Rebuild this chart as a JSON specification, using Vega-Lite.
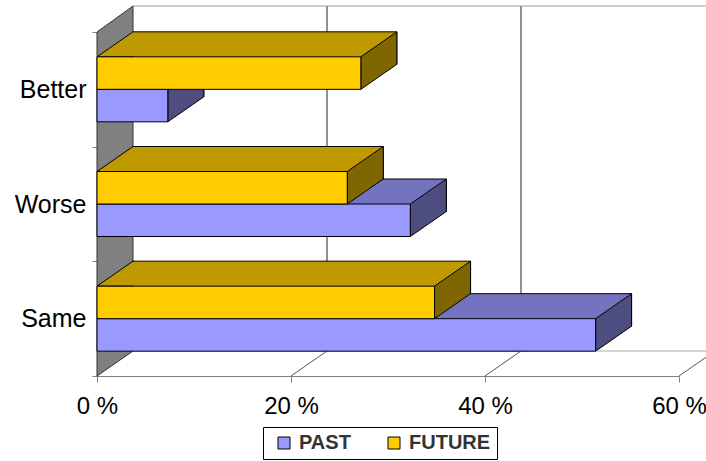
{
  "$schema": "https://vega.github.io/schema/vega-lite/v6.json",
  "width": 582,
  "height": 344,
  "autosize": {"type": "none"},
  "padding": {"left": 97, "top": 32, "right": 27, "bottom": 85},
  "background": "white",
  "config": {
    "view": {"stroke": null},
    "font": "Liberation Sans",
    "axisX": {"grid": false, "domainColor": "#808080", "tickColor": "#808080", "tickSize": 6, "labelFontSize": 24, "labelColor": "#000", "labelPadding": 12, "labelFont": "Liberation Sans", "labelFlush": false, "labelOverlap": false}
  },
  "datasets": {
    "bars": [
      {"cat": "Better", "series": "PAST", "v": 7.3},
      {"cat": "Better", "series": "FUTURE", "v": 27.2},
      {"cat": "Worse", "series": "PAST", "v": 32.3},
      {"cat": "Worse", "series": "FUTURE", "v": 25.8},
      {"cat": "Same", "series": "PAST", "v": 51.4},
      {"cat": "Same", "series": "FUTURE", "v": 34.8}
    ],
    "ticks": [{"t": 0}, {"t": 20}, {"t": 40}, {"t": 60}]
  },
  "resolve": {"scale": {"y": "independent"}},
  "layer": [
    {
      "data": {"name": "ticks"},
      "layer": [
        {
          "transform": [{"filter": "datum.t == 0"}],
          "mark": {"type": "point", "shape": "M0,0 L0,-344 L36,-370 L36,-25 Z", "size": 4, "filled": true, "fill": "#808080", "stroke": "#333", "strokeWidth": 1, "opacity": 1},
          "encoding": {
            "x": {"field": "t", "type": "quantitative", "scale": {"domain": [0, 60], "nice": false}, "axis": {"values": [0, 20, 40, 60], "labelExpr": "datum.value + ' %'", "title": null}},
            "y": {"datum": 0, "type": "quantitative", "scale": {"domain": [0, 1]}, "axis": null}
          }
        },
        {
          "transform": [{"filter": "datum.t > 0"}],
          "mark": {"type": "rule", "color": "#222", "strokeWidth": 1, "xOffset": 36, "yOffset": -25, "y2Offset": -26},
          "encoding": {
            "x": {"field": "t", "type": "quantitative", "axis": {"values": [0, 20, 40, 60], "labelExpr": "datum.value + ' %'", "title": null}},
            "y": {"datum": 0, "type": "quantitative", "axis": null},
            "y2": {"datum": 1}
          }
        },
        {
          "transform": [{"filter": "datum.t == 0"}],
          "mark": {"type": "rule", "color": "#999", "strokeWidth": 1, "xOffset": 36, "x2Offset": 36, "yOffset": -26},
          "encoding": {
            "x": {"field": "t", "type": "quantitative", "axis": {"values": [0, 20, 40, 60], "labelExpr": "datum.value + ' %'", "title": null}},
            "x2": {"datum": 60},
            "y": {"datum": 1, "type": "quantitative", "axis": null}
          }
        },
        {
          "transform": [{"filter": "datum.t == 0"}],
          "mark": {"type": "rule", "color": "#aaa", "strokeWidth": 1, "xOffset": 36, "x2Offset": 36, "yOffset": -25},
          "encoding": {
            "x": {"field": "t", "type": "quantitative", "axis": {"values": [0, 20, 40, 60], "labelExpr": "datum.value + ' %'", "title": null}},
            "x2": {"datum": 60},
            "y": {"datum": 0, "type": "quantitative", "axis": null}
          }
        },
        {
          "transform": [{"filter": "datum.t > 0"}],
          "mark": {"type": "rule", "color": "#555", "strokeWidth": 1, "x2Offset": 36, "y2Offset": -25},
          "encoding": {
            "x": {"field": "t", "type": "quantitative", "axis": {"values": [0, 20, 40, 60], "labelExpr": "datum.value + ' %'", "title": null}},
            "x2": {"field": "t"},
            "y": {"datum": 0, "type": "quantitative", "axis": null},
            "y2": {"datum": 0}
          }
        }
      ]
    },
    {
      "data": {"name": "bars"},
      "encoding": {
        "y": {
          "field": "cat", "type": "nominal", "sort": ["Better", "Worse", "Same"],
          "scale": {"paddingInner": 0, "paddingOuter": 0},
          "axis": {"title": null, "labelFontSize": 25, "labelColor": "#000", "labelPadding": 6, "tickBand": "extent", "tickSize": 5, "tickColor": "#808080", "domainColor": "#333", "grid": false, "labelFont": "Liberation Sans"}
        }
      },
      "layer": [
        {
          "transform": [{"filter": "datum.series == 'PAST'"}],
          "mark": {"type": "bar", "height": 32.5, "yOffset": -8.75, "xOffset": 36, "x2Offset": 36, "fill": "#7373BF", "stroke": "#000", "strokeWidth": 1},
          "encoding": {"x": {"field": "v", "type": "quantitative", "axis": {"values": [0, 20, 40, 60], "labelExpr": "datum.value + ' %'", "title": null}}}
        },
        {
          "transform": [{"filter": "datum.series == 'PAST'"}],
          "mark": {"type": "point", "shape": "M37,0 L0,0 L36,-25 L37,-25", "size": 4, "filled": true, "fill": "#7373BF", "stroke": "#000", "strokeWidth": 1, "opacity": 1},
          "encoding": {"x": {"datum": 0, "type": "quantitative", "axis": {"values": [0, 20, 40, 60], "labelExpr": "datum.value + ' %'", "title": null}}}
        },
        {
          "transform": [{"filter": "datum.series == 'PAST'"}],
          "mark": {"type": "point", "shape": "M0,0 L36,-25 L36,7.5 L0,32.5 Z", "size": 4, "filled": true, "fill": "#4D4D80", "stroke": "#000", "strokeWidth": 1, "opacity": 1},
          "encoding": {"x": {"field": "v", "type": "quantitative", "axis": {"values": [0, 20, 40, 60], "labelExpr": "datum.value + ' %'", "title": null}}}
        },
        {
          "transform": [{"filter": "datum.series == 'PAST'"}],
          "mark": {"type": "bar", "height": 32.5, "yOffset": 16.25, "stroke": "#000", "strokeWidth": 1},
          "encoding": {
            "x": {"field": "v", "type": "quantitative", "axis": {"values": [0, 20, 40, 60], "labelExpr": "datum.value + ' %'", "title": null}},
            "color": {"field": "series", "type": "nominal", "scale": {"domain": ["PAST", "FUTURE"], "range": ["#9999FF", "#FFCC00"]},
              "legend": {"title": null, "orient": "none", "legendX": 166, "legendY": 395, "direction": "horizontal", "symbolType": "square", "symbolSize": 144, "symbolStrokeColor": "#000", "symbolStrokeWidth": 1, "labelFontSize": 20, "labelFontWeight": "bold", "labelColor": "#333", "labelFont": "Liberation Sans", "strokeColor": "#000", "fillColor": "#fff", "padding": 6, "columnPadding": 28, "labelOffset": 5, "symbolOffset": 5}}
          }
        },
        {
          "transform": [{"filter": "datum.series == 'FUTURE'"}],
          "mark": {"type": "bar", "height": 32.5, "yOffset": -41.25, "xOffset": 36, "x2Offset": 36, "fill": "#BF9900", "stroke": "#000", "strokeWidth": 1},
          "encoding": {"x": {"field": "v", "type": "quantitative", "axis": {"values": [0, 20, 40, 60], "labelExpr": "datum.value + ' %'", "title": null}}}
        },
        {
          "transform": [{"filter": "datum.series == 'FUTURE'"}],
          "mark": {"type": "point", "shape": "M37,-32.5 L0,-32.5 L36,-57.5 L37,-57.5", "size": 4, "filled": true, "fill": "#BF9900", "stroke": "#000", "strokeWidth": 1, "opacity": 1},
          "encoding": {"x": {"datum": 0, "type": "quantitative", "axis": {"values": [0, 20, 40, 60], "labelExpr": "datum.value + ' %'", "title": null}}}
        },
        {
          "transform": [{"filter": "datum.series == 'FUTURE'"}],
          "mark": {"type": "point", "shape": "M0,-32.5 L36,-57.5 L36,-25 L0,0 Z", "size": 4, "filled": true, "fill": "#806600", "stroke": "#000", "strokeWidth": 1, "opacity": 1},
          "encoding": {"x": {"field": "v", "type": "quantitative", "axis": {"values": [0, 20, 40, 60], "labelExpr": "datum.value + ' %'", "title": null}}}
        },
        {
          "transform": [{"filter": "datum.series == 'FUTURE'"}],
          "mark": {"type": "bar", "height": 32.5, "yOffset": -16.25, "stroke": "#000", "strokeWidth": 1},
          "encoding": {
            "x": {"field": "v", "type": "quantitative", "axis": {"values": [0, 20, 40, 60], "labelExpr": "datum.value + ' %'", "title": null}},
            "color": {"field": "series", "type": "nominal", "scale": {"domain": ["PAST", "FUTURE"], "range": ["#9999FF", "#FFCC00"]}}
          }
        }
      ]
    }
  ]
}
